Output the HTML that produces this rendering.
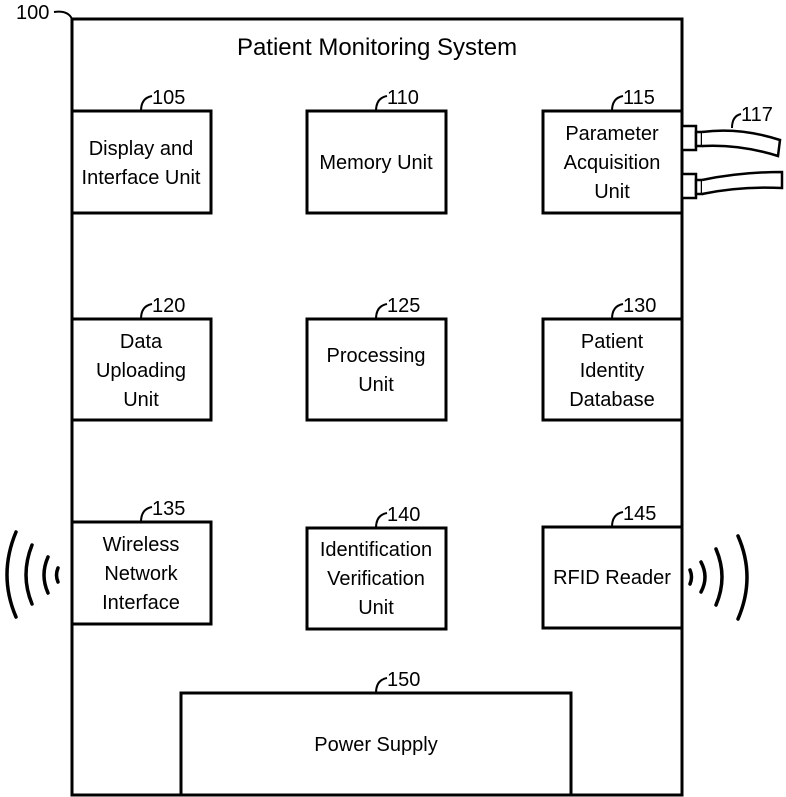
<!DOCTYPE html>
<html><head><meta charset="utf-8"><style>
html,body{margin:0;padding:0;background:#fff;}
svg{display:block;}
text{font-family:"Liberation Sans",Arial,sans-serif;font-size:20px;fill:#000;}
</style></head><body>
<svg width="786" height="797" viewBox="0 0 786 797" xmlns="http://www.w3.org/2000/svg">
<g fill="none" stroke="#000" stroke-width="3">
<rect x="72" y="19" width="610" height="776"/>
<rect x="72" y="111" width="139" height="102"/>
<rect x="307" y="111" width="139" height="102"/>
<rect x="543" y="111" width="139" height="102"/>
<rect x="72" y="319" width="139" height="101"/>
<rect x="307" y="319" width="139" height="101"/>
<rect x="543" y="319" width="139" height="101"/>
<rect x="72" y="522" width="139" height="102"/>
<rect x="307" y="528" width="139" height="101"/>
<rect x="543" y="527" width="139" height="101"/>
<rect x="181" y="693" width="390" height="102"/>
</g>
<g fill="none" stroke="#000" stroke-width="2">
<path d="M54 12 Q68 10 72 19"/>
<path d="M141 111 Q141 98 152 96"/>
<path d="M376 111 Q376 98 387 96"/>
<path d="M612 111 Q612 98 623 96"/>
<path d="M141 319 Q141 306 152 304"/>
<path d="M376 319 Q376 306 387 304"/>
<path d="M612 319 Q612 306 623 304"/>
<path d="M141 522 Q141 509 152 507"/>
<path d="M376 528 Q376 515 387 513"/>
<path d="M612 527 Q612 514 623 512"/>
<path d="M376 693 Q376 680 387 678"/>
<path d="M732 128 Q732 116 741 114"/>
</g>
<g fill="#fff" stroke="#000" stroke-width="2.5">
<rect x="682" y="126" width="14" height="24"/>
<rect x="682" y="174" width="14" height="24"/>
<rect x="696" y="132" width="6" height="14"/>
<rect x="696" y="180" width="6" height="14"/>
<path d="M702 132 Q740 127 780 140 L778 156 Q740 144 702 146"/>
<path d="M702 180 Q740 172 782 172 L782 188 Q740 186 702 194"/>
</g>
<g fill="none" stroke="#000" stroke-width="3.5" stroke-linecap="round">
<path d="M58 568 Q55 575 58 582"/>
<path d="M48 557 Q40 575 48 593"/>
<path d="M32 545 Q20 575 32 604"/>
<path d="M16 532 Q-2 575 16 617"/>
<path d="M690 570 Q693 577 690 584"/>
<path d="M701 562 Q709 577 701 592"/>
<path d="M716 549 Q728 577 716 605"/>
<path d="M738 536 Q756 577 738 619"/>
</g>
<g text-anchor="middle">
<text x="377" y="55" style="font-size:24px">Patient Monitoring System</text>
<text x="141" y="155">Display and</text>
<text x="141" y="184">Interface Unit</text>
<text x="376" y="169">Memory Unit</text>
<text x="612" y="140">Parameter</text>
<text x="612" y="169">Acquisition</text>
<text x="612" y="198">Unit</text>
<text x="141" y="348">Data</text>
<text x="141" y="377">Uploading</text>
<text x="141" y="406">Unit</text>
<text x="376" y="362">Processing</text>
<text x="376" y="391">Unit</text>
<text x="612" y="348">Patient</text>
<text x="612" y="377">Identity</text>
<text x="612" y="406">Database</text>
<text x="141" y="551">Wireless</text>
<text x="141" y="580">Network</text>
<text x="141" y="609">Interface</text>
<text x="376" y="556">Identification</text>
<text x="376" y="585">Verification</text>
<text x="376" y="614">Unit</text>
<text x="612" y="584">RFID Reader</text>
<text x="376" y="751">Power Supply</text>
</g>
<g>
<text x="16" y="19">100</text>
<text x="152" y="104">105</text>
<text x="387" y="104">110</text>
<text x="623" y="104">115</text>
<text x="741" y="121">117</text>
<text x="152" y="312">120</text>
<text x="387" y="312">125</text>
<text x="623" y="312">130</text>
<text x="152" y="515">135</text>
<text x="387" y="521">140</text>
<text x="623" y="520">145</text>
<text x="387" y="686">150</text>
</g>
</svg>
</body></html>
